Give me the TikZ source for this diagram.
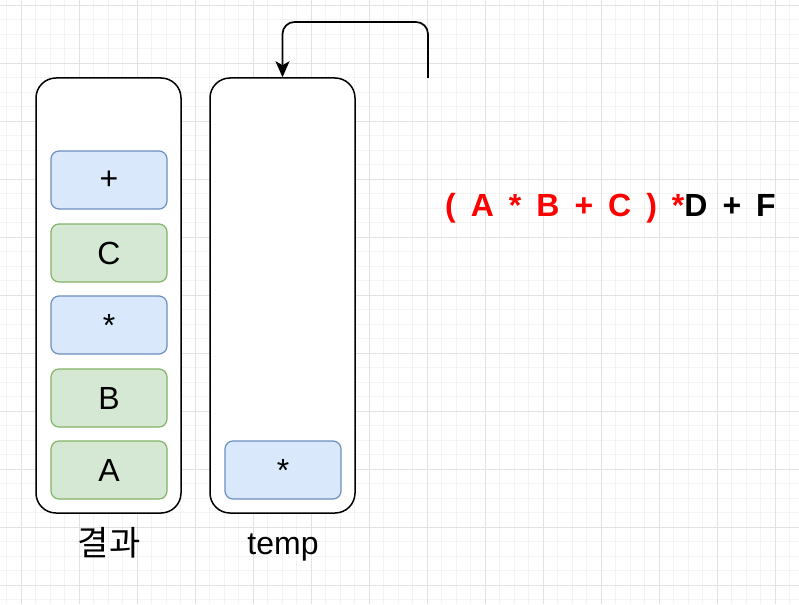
\documentclass[tikz,border=0pt]{standalone}
\usepackage{fontspec}
\setmainfont{Liberation Sans}
\newfontfamily\kofont{Noto Sans CJK KR}
\usetikzlibrary{arrows.meta}
\definecolor{bluefill}{HTML}{DAE8FC}
\definecolor{bluedraw}{HTML}{6C8EBF}
\definecolor{greenfill}{HTML}{D5E8D4}
\definecolor{greendraw}{HTML}{82B366}
\definecolor{gridminor}{HTML}{F3F3F3}
\definecolor{gridmajor}{HTML}{E2E2E2}
\definecolor{exprred}{HTML}{FF0000}
\tikzset{
  container/.style={draw=black, line width=1.5pt, fill=white, rounded corners=20pt,
    minimum width=145pt, minimum height=435pt, inner sep=0pt},
  bluebox/.style={draw=bluedraw, line width=1.2pt, fill=bluefill, rounded corners=8pt,
    minimum width=116pt, minimum height=58pt, inner sep=0pt, font=\fontsize{32}{36}\selectfont},
  greenbox/.style={draw=greendraw, line width=1.2pt, fill=greenfill, rounded corners=8pt,
    minimum width=116pt, minimum height=58pt, inner sep=0pt, font=\fontsize{32}{36}\selectfont},
  caption/.style={inner sep=0pt, font=\fontsize{32}{36}\selectfont},
  flow/.style={draw=black, line width=1.7pt, rounded corners=12pt, -{Stealth[length=16pt,width=14pt,inset=4pt]}}
}
\begin{document}
\begin{tikzpicture}[x=1pt,y=-1pt]
\useasboundingbox (0,0) rectangle (799,604);
\fill[white] (0,0) rectangle (799,604);
% grid
\foreach \i in {0,...,55} {
  \draw[gridminor, line width=0.8pt] ({6.5+14.5*\i},0) -- ({6.5+14.5*\i},604);
}
\foreach \i in {0,...,42} {
  \draw[gridminor, line width=0.8pt] (0,{5+14.5*\i}) -- (799,{5+14.5*\i});
}
\foreach \i in {0,...,13} {
  \draw[gridmajor, line width=0.9pt] ({21+58*\i},0) -- ({21+58*\i},604);
}
\foreach \i in {0,...,10} {
  \draw[gridmajor, line width=0.9pt] (0,{5+58*\i}) -- (799,{5+58*\i});
}
% containers
\node[container] (res) at (108.5,295.5) {};
\node[container] (temp) at (282.5,295.5) {};
% result stack
\node[bluebox] (plus) at (109,180) {+};
\node[greenbox] (c) at (109,253) {C};
\node[bluebox] (star) at (109,325) {*};
\node[greenbox] (b) at (109,398) {B};
\node[greenbox] (a) at (109,470) {A};
% temp stack
\node[bluebox] (tstar) at (283,470) {*};
% labels
\node[caption, font=\fontsize{34}{38}\selectfont] (reslabel) at (109,543) {\kofont 결과};
\node[caption] (templabel) at (283,547) {temp};
% expression
\node[inner sep=0pt, anchor=west, font=\fontsize{32}{36}\selectfont\bfseries] (expr) at (445,208)
  {\spaceskip=15pt\relax\textcolor{exprred}{( A * B + C ) *}D + F};
% arrow
\coordinate (src) at (428,78);
\draw[flow] (src) -- (428,22) -| (temp.north);
\end{tikzpicture}
\end{document}
